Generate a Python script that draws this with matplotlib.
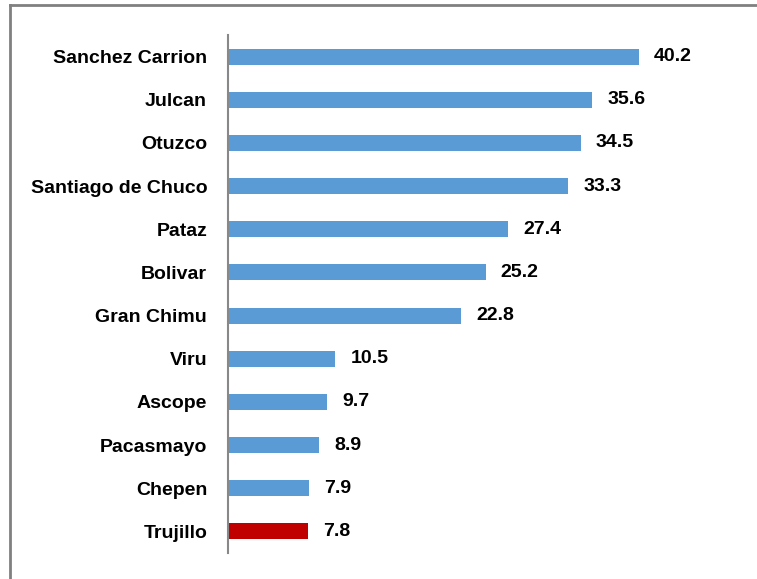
import matplotlib
matplotlib.use("Agg")
import matplotlib.pyplot as plt
from matplotlib.lines import Line2D

provinces = ["Sanchez Carrion", "Julcan", "Otuzco", "Santiago de Chuco", "Pataz",
             "Bolivar", "Gran Chimu", "Viru", "Ascope", "Pacasmayo", "Chepen", "Trujillo"]
values = [40.2, 35.6, 34.5, 33.3, 27.4, 25.2, 22.8, 10.5, 9.7, 8.9, 7.9, 7.8]
highlight = "Trujillo"

BLUE = "#5B9BD5"
RED = "#C00000"
FONT = ["Liberation Sans Narrow", "Liberation Sans", "DejaVu Sans"]

fig = plt.figure(figsize=(7.57, 5.79), dpi=100)
ax = fig.add_axes([228 / 757, 26 / 579, 511 / 757, 518 / 579])

colors = [RED if p == highlight else BLUE for p in provinces]
ypos = list(range(len(provinces)))
ax.barh(ypos, values, height=0.37, color=colors)

for y, v in zip(ypos, values):
    ax.text(v + 1.5, y, f"{v:.1f}", va="center", ha="left",
            fontsize=14, fontweight="bold", family=FONT)

ax.set_yticks(ypos)
ax.set_yticklabels(provinces, fontsize=14, fontweight="bold", family=FONT)
ax.tick_params(axis="y", length=0, pad=15)
ax.set_ylim(len(provinces) - 0.5, -0.5)
ax.set_xlim(0, 50)
ax.set_xticks([])

for side in ["top", "right", "bottom"]:
    ax.spines[side].set_visible(False)
ax.spines["left"].set_color("#888888")
ax.spines["left"].set_linewidth(1.5)

# outer frame (top and left edges only visible)
fig.add_artist(Line2D([10 / 757, 1], [1 - 5 / 579, 1 - 5 / 579], color="#808080", lw=2))
fig.add_artist(Line2D([10 / 757, 10 / 757], [0, 1 - 5 / 579], color="#808080", lw=2))

fig.savefig("out.png", dpi=100)
